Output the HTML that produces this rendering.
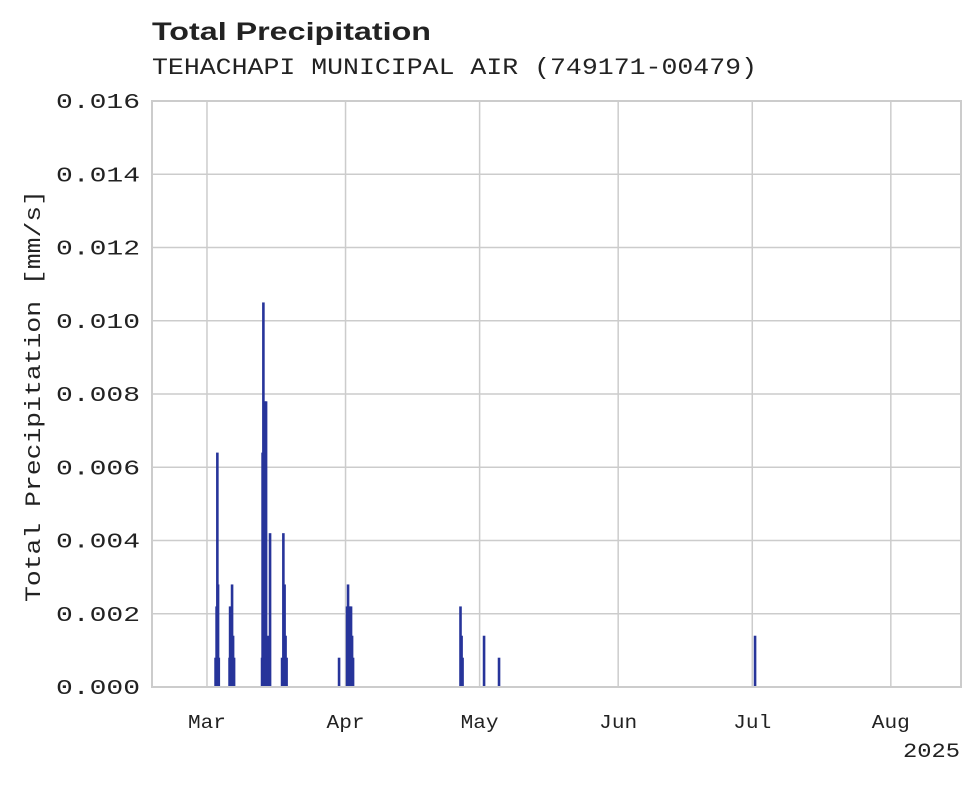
<!DOCTYPE html>
<html><head><meta charset="utf-8"><style>
body{margin:0;background:#fff;width:980px;height:783px;overflow:hidden}
text{font-family:"Liberation Mono",monospace;fill:#222}
</style></head><body>
<svg id="chart" width="980" height="783" xmlns="http://www.w3.org/2000/svg">
<text x="152" y="40" textLength="279" lengthAdjust="spacingAndGlyphs" style="font-family:'Liberation Sans',sans-serif;font-weight:bold;font-size:25px">Total Precipitation</text>
<text x="152" y="74" textLength="605" lengthAdjust="spacingAndGlyphs" style="font-size:23px">TEHACHAPI MUNICIPAL AIR (749171-00479)</text>
<g id="grid"></g><g id="bars"></g><g id="axes"></g>
<text transform="translate(40,396) rotate(-90)" text-anchor="middle" textLength="412" lengthAdjust="spacingAndGlyphs" style="font-size:22px">Total Precipitation [mm/s]</text>
<text x="960" y="757" text-anchor="end" textLength="57" lengthAdjust="spacingAndGlyphs" style="font-size:20px">2025</text>
</svg>
<script>
const days=[1.9,2.13,2.3,2.46,2.62,5.03,5.15,5.37,5.59,5.82,6.04,12.3,12.42,12.6,12.8,12.98,13.2,13.42,13.65,13.87,14.09,16.78,17.07,17.34,17.56,17.79,29.53,31.32,31.54,31.77,31.99,32.21,32.44,32.66,56.7,56.94,57.16,61.97,65.32,122.6];
const values=[0.0008,0.0022,0.0064,0.0028,0.0008,0.0008,0.0022,0.0022,0.0028,0.0014,0.0008,0.0008,0.0064,0.0105,0.0064,0.0078,0.0078,0.0008,0.0014,0.0008,0.0042,0.0008,0.0042,0.0028,0.0014,0.0008,0.0008,0.0022,0.0028,0.0022,0.0022,0.0022,0.0014,0.0008,0.0022,0.0014,0.0008,0.0014,0.0008,0.0014];
const yTicks=[0,0.002,0.004,0.006,0.008,0.010,0.012,0.014,0.016];
const xTickDays=[0,31,61,92,122,153];
const xTickLabels=["Mar","Apr","May","Jun","Jul","Aug"];
const L=152,R=961,T=101,B=687,d0=-12.3,d1=168.7;
const X=d=>L+(d-d0)/(d1-d0)*(R-L), Y=v=>B-v/0.016*(B-T);
const ns="http://www.w3.org/2000/svg";
function mk(p,t,a){const e=document.createElementNS(ns,t);for(const k in a)e.setAttribute(k,a[k]);document.getElementById(p).appendChild(e);return e;}
yTicks.forEach(v=>{
 const l=mk('grid','line',{x1:L,x2:R,y1:Y(v),y2:Y(v),stroke:'#cccccc','stroke-width':1.5});
 
 
 const t=mk('axes','text',{x:140,y:Y(v)+7,'text-anchor':'end','font-size':21,textLength:84,lengthAdjust:'spacingAndGlyphs'});
 
 
 t.textContent=v.toFixed(3);
});
xTickDays.forEach((d,i)=>{
 const l=mk('grid','line',{x1:X(d),x2:X(d),y1:T,y2:B,stroke:'#cccccc','stroke-width':1.5});
 
 
 const t=mk('axes','text',{x:X(d),y:728,'text-anchor':'middle','font-size':19,textLength:38,lengthAdjust:'spacingAndGlyphs'});
 
 
 t.textContent=xTickLabels[i];
});
days.forEach((d,i)=>{
 const r=mk('bars','rect',{x:X(d)-1.2,y:Y(values[i]),width:2.6,height:B-Y(values[i]),fill:'#27349a'});
 
 
});
const f=mk('axes','rect',{x:L,y:T,width:R-L,height:B-T,fill:'none',stroke:'#cccccc','stroke-width':2});


</script>
</body></html>
